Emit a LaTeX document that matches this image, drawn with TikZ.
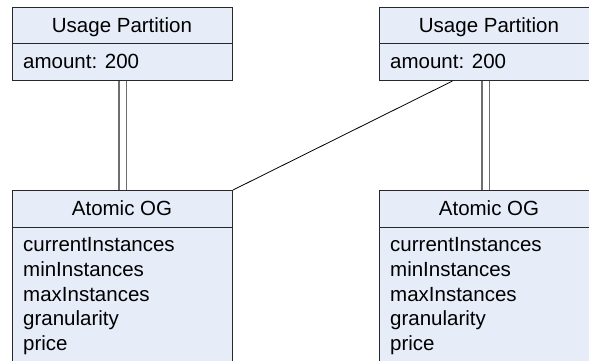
\documentclass[tikz,border=0pt]{standalone}
\usepackage{fontspec}
\setmainfont{Liberation Sans}
\definecolor{boxfill}{RGB}{230,237,248}
\definecolor{boxline}{RGB}{40,40,40}
\definecolor{dblline}{RGB}{110,110,110}
\begin{document}
\begin{tikzpicture}[x=1pt,y=-1pt,
  umlbox/.style={draw=boxline, fill=boxfill, line width=1pt, rectangle, inner sep=0pt, anchor=north west, minimum width=220pt},
  title/.style={anchor=base, inner sep=0pt, font=\fontsize{20.5}{24}\selectfont},
  attr/.style={anchor=base west, inner sep=0pt, font=\fontsize{20.5}{24}\selectfont},
  dbl/.style={draw=dblline, double=white, double distance=6pt, line width=1.2pt},
  assoc/.style={draw=black, line width=0.8pt}]
\useasboundingbox (0,0) rectangle (589,360);
\clip (0,0) rectangle (589,360);
% boxes
\node[umlbox, minimum height=73pt] (lup) at (12,7) {};
\node[umlbox, minimum height=73pt] (rup) at (379,7) {};
\node[umlbox, minimum height=200pt] (laog) at (12,190) {};
\node[umlbox, minimum height=200pt] (raog) at (379,190) {};
% dividers
\draw[draw=boxline, line width=1pt] ([yshift=-36pt]lup.north west) -- ([yshift=-36pt]lup.north east);
\draw[draw=boxline, line width=1pt] ([yshift=-36pt]rup.north west) -- ([yshift=-36pt]rup.north east);
\draw[draw=boxline, line width=1pt] ([yshift=-37pt]laog.north west) -- ([yshift=-37pt]laog.north east);
\draw[draw=boxline, line width=1pt] ([yshift=-37pt]raog.north west) -- ([yshift=-37pt]raog.north east);
% texts
\node[title] (lupt) at (122,32) {Usage Partition};
\node[attr] (lupa) at (23,68) {amount: 200};
\node[title] (rupt) at (489,32) {Usage Partition};
\node[attr] (rupa) at (390,68) {amount: 200};
\node[title] (laogt) at (122,215) {Atomic OG};
\node[attr] (la1) at (23,251.7) {currentInstances};
\node[attr] (la2) at (23,276.4) {minInstances};
\node[attr] (la3) at (23,301.1) {maxInstances};
\node[attr] (la4) at (23,325.8) {granularity};
\node[attr] (la5) at (23,350.5) {price};
\node[title] (raogt) at (489,215) {Atomic OG};
\node[attr] (ra1) at (390,251.7) {currentInstances};
\node[attr] (ra2) at (390,276.4) {minInstances};
\node[attr] (ra3) at (390,301.1) {maxInstances};
\node[attr] (ra4) at (390,325.8) {granularity};
\node[attr] (ra5) at (390,350.5) {price};
% connectors
\draw[dbl] (lup.south) -- (laog.north);
\draw[dbl] ([xshift=-4pt]rup.south) -- ([xshift=-4pt]raog.north);
\draw[assoc] (laog.north east) -- ([xshift=-37pt]rup.south);
\end{tikzpicture}
\end{document}
